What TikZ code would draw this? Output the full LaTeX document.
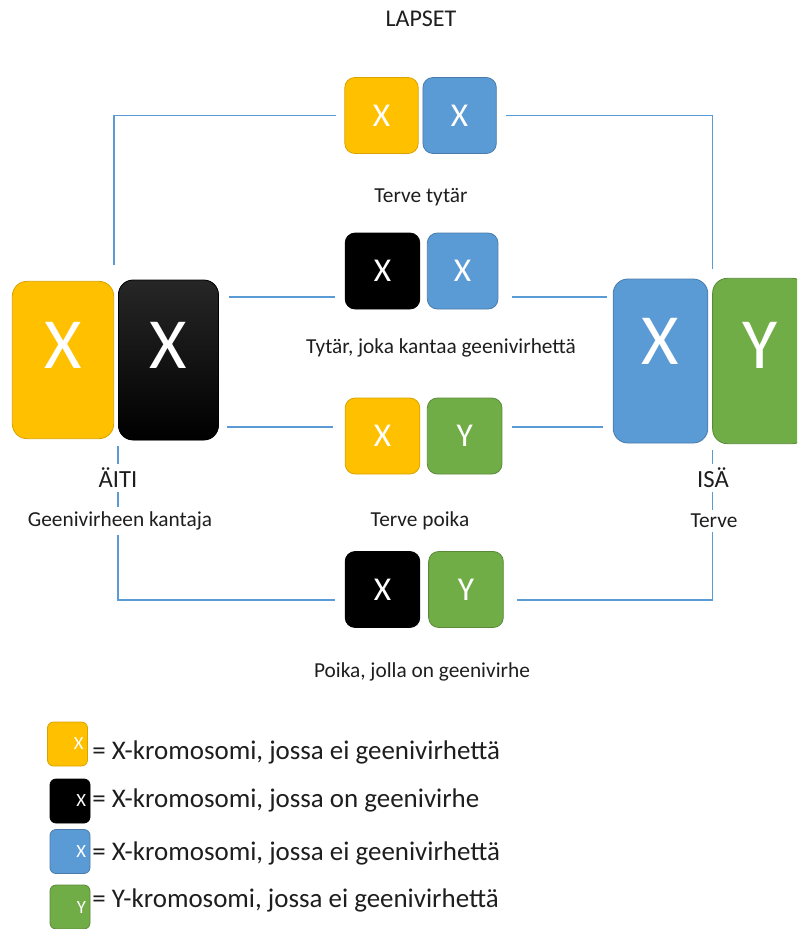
\documentclass[tikz,border=0pt]{standalone}
\usepackage{fontspec}
\setmainfont{Carlito}
\usetikzlibrary{positioning}

\definecolor{xyellow}{RGB}{255,192,0}
\definecolor{xblue}{RGB}{91,155,213}
\definecolor{ygreen}{RGB}{112,173,71}
\definecolor{linkblue}{RGB}{91,155,213}
\definecolor{inkgrey}{RGB}{30,30,30}

\tikzset{
  chrom/.style={draw, line width=0.6pt, inner sep=0pt, text=white},
  yelchrom/.style={chrom, fill=xyellow, draw=xyellow!85!black},
  bluechrom/.style={chrom, fill=xblue, draw=xblue!80!black},
  greenchrom/.style={chrom, fill=ygreen, draw=ygreen!80!black},
  blackchrom/.style={chrom, fill=black, draw=black},
  parent/.style={rounded corners=11pt, font=\fontsize{54}{54}\selectfont},
  kid/.style={rounded corners=7.5pt, minimum width=56pt, minimum height=57pt, font=\fontsize{25}{25}\selectfont},
  legendbox/.style={rounded corners=4.5pt, minimum height=33pt, text width=24pt, align=right, inner xsep=3pt, font=\fontsize{14}{14}\selectfont},
  caption/.style={font=\fontsize{16}{16}\selectfont, text=inkgrey},
  parentname/.style={font=\fontsize{18.5}{18.5}\selectfont, text=inkgrey, fill=white},
  legendtext/.style={font=\fontsize{20.2}{20.2}\selectfont, text=inkgrey, inner sep=0pt, anchor=west},
  link/.style={draw=linkblue, line width=0.9pt},
}

\begin{document}
\begin{tikzpicture}[x=0.75pt,y=0.75pt,yscale=-1,xscale=1]
\useasboundingbox (0,0) rectangle (797,929);
\clip (0,0) rectangle (797,929);

%Parents
\node[yelchrom, parent, minimum width=76pt, minimum height=118pt, text depth=22pt] (momA) at (63,360) {X};
\node[blackchrom, parent, shade, top color=black!85, middle color=black, bottom color=black, minimum width=75pt, minimum height=120pt, text depth=22pt, right=3pt of momA] (momB) {X};
\node[bluechrom, parent, minimum width=71pt, minimum height=123pt, text depth=30pt] (dadA) at (660.5,361) {X};
\node[greenchrom, parent, minimum width=71pt, minimum height=124pt, text depth=24pt, right=3pt of dadA] (dadB) {Y};

%Children
\node[yelchrom, kid, minimum width=55pt] (kid1a) at (381.5,115.5) {X};
\node[bluechrom, kid, minimum width=55pt, right=3pt of kid1a] (kid1b) {X};
\node[blackchrom, kid] (kid2a) at (382.5,271) {X};
\node[bluechrom, kid, minimum width=53pt, right=5pt of kid2a] (kid2b) {X};
\node[yelchrom, kid] (kid3a) at (382.5,436) {X};
\node[greenchrom, kid, right=5pt of kid3a] (kid3b) {Y};
\node[blackchrom, kid] (kid4a) at (382.5,589.5) {X};
\node[greenchrom, kid, right=6pt of kid4a] (kid4b) {Y};

%Row heights of the connectors
\coordinate (row2) at (0,297);
\coordinate (row3) at (0,427);
\coordinate (row4) at (0,600);

%Connectors
\draw[link, shorten <=6pt, shorten >=12pt] (kid1a.west) -| (momA.north east);
\draw[link, shorten <=7pt, shorten >=7pt] (kid1b.east) -| (dadB.north west);
\draw[link, shorten <=7.5pt, shorten >=7.5pt] (momB.east |- row2) -- (kid2a.west |- row2);
\draw[link, shorten <=10.5pt, shorten >=4.5pt] (kid2b.east |- row2) -- (dadA.west |- row2);
\draw[link, shorten <=6pt, shorten >=9pt] (momB.east |- row3) -- (kid3a.west |- row3);
\draw[link, shorten <=7.5pt, shorten >=7.5pt] (kid3b.east |- row3) -- (dadA.west |- row3);
\draw[link, shorten <=4.5pt, shorten >=7.5pt] (momB.south west) |- (kid4a.west |- row4);
\draw[link, shorten <=10pt, shorten >=4.5pt] (kid4b.east |- row4) -| (dadB.south west);

%Labels
\node[caption, font=\fontsize{18}{18}\selectfont] (lapset) at (421,19) {LAPSET};
\node[caption] (lab1) at (421,197) {Terve tytär};
\node[caption] (lab2) at (441,348) {Tytär, joka kantaa geenivirhettä};
\node[caption] (lab3) at (420,521) {Terve poika};
\node[caption] (lab4) at (422,672) {Poika, jolla on geenivirhe};
\node[parentname] (momname) at (118,478) {ÄITI};
\node[caption, fill=white] (momnote) at (120,521) {Geenivirheen kantaja};
\node[parentname] (dadname) at (713,478) {ISÄ};
\node[caption, fill=white] (dadnote) at (714,521) {Terve};

%Legend
\node[yelchrom, legendbox] (legYel) at (67.5,744) {X};
\node[blackchrom, legendbox] (legBlack) at (70,801) {X};
\node[bluechrom, legendbox] (legBlue) at (70,851.5) {X};
\node[greenchrom, legendbox] (legGreen) at (70,907) {Y};
\node[legendtext] (legYelText) at (92,752) {= X-kromosomi, jossa ei geenivirhettä};
\node[legendtext] (legBlackText) at (92,800) {= X-kromosomi, jossa on geenivirhe};
\node[legendtext] (legBlueText) at (92,853) {= X-kromosomi, jossa ei geenivirhettä};
\node[legendtext] (legGreenText) at (92,900) {= Y-kromosomi, jossa ei geenivirhettä};

\end{tikzpicture}
\end{document}
